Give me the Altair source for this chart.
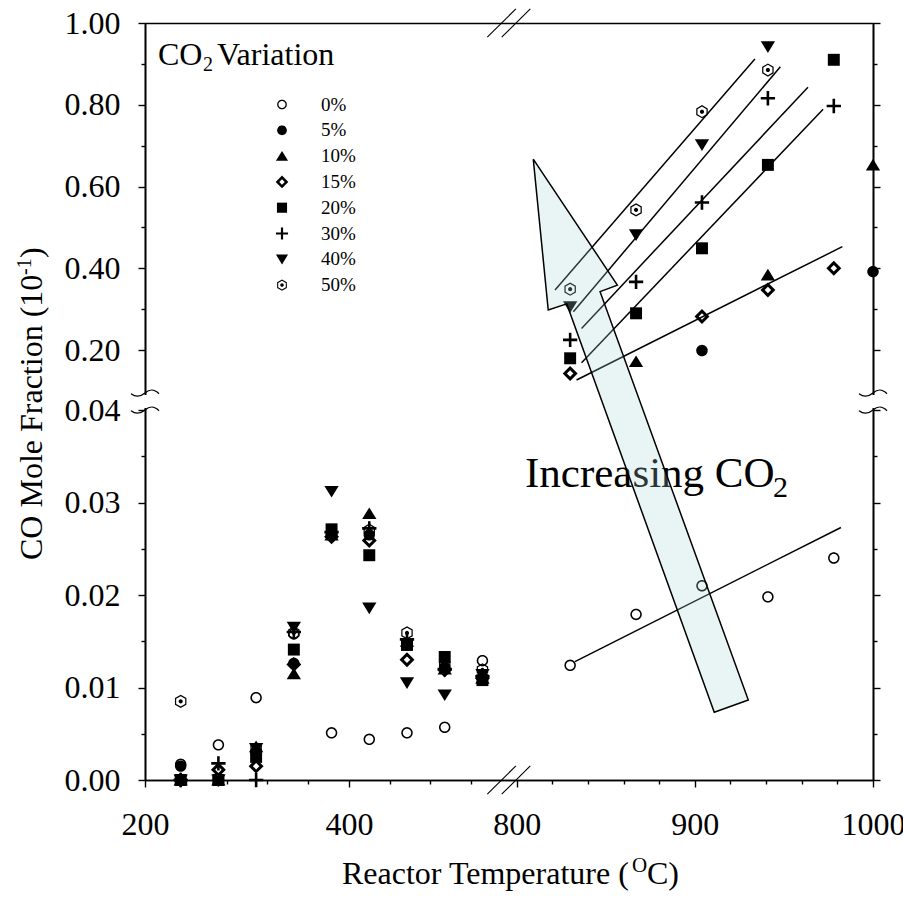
import altair as alt
import numpy as np
import pandas as pd

FONT = "Liberation Serif"

SERIES = ["0%", "5%", "10%", "15%", "20%", "30%", "40%", "50%"]

# Reactor temperatures (deg C) of the two measurement ranges
TEMPS_LOW = [235, 272, 309, 346, 383, 420, 457, 494, 531]
TEMPS_HIGH = [830, 867, 904, 941, 978, 1000]

# CO mole fraction, low-temperature range (lower y segment)
CO_LOW = {
    "0%":  [0.0017, 0.0038, 0.0089, 0.0158, 0.0051, 0.0044, 0.0051, 0.0057, 0.0129],
    "5%":  [0.0015, 0.0000, 0.0029, 0.0126, 0.0265, 0.0265, 0.0146, 0.0122, 0.0110],
    "10%": [0.0000, 0.0000, 0.0036, 0.0115, 0.0265, 0.0288, 0.0150, 0.0120, 0.0110],
    "15%": [0.0000, 0.0011, 0.0015, 0.0125, 0.0263, 0.0259, 0.0130, 0.0119, 0.0110],
    "20%": [0.0000, 0.0000, 0.0025, 0.0141, 0.0271, 0.0243, 0.0146, 0.0133, 0.0108],
    "30%": [0.0000, 0.0018, 0.0000, 0.0160, 0.0268, 0.0272, 0.0152, 0.0120, 0.0112],
    "40%": [0.0000, 0.0000, 0.0034, 0.0165, 0.0312, 0.0186, 0.0105, 0.0092, 0.0114],
    "50%": [0.0085, 0.0000, 0.0034, 0.0159, 0.0265, 0.0270, 0.0159, 0.0125, 0.0119],
}

# CO mole fraction, high-temperature range (upper y segment; 0% stays on the lower one)
CO_HIGH = {
    "0%":  [0.0124, 0.0179, 0.0210, 0.0198, 0.0240, None],
    "5%":  [None, None, 0.199, None, None, 0.392],
    "10%": [None, 0.172, None, 0.384, None, 0.653],
    "15%": [0.143, None, 0.282, 0.347, 0.400, None],
    "20%": [0.180, 0.290, 0.449, 0.653, 0.910, None],
    "30%": [0.225, 0.367, 0.561, 0.816, 0.797, None],
    "40%": [0.306, 0.482, 0.702, 0.942, None, None],
    "50%": [0.349, 0.543, 0.783, 0.885, None, None],
}

# Linear trend lines over the high-temperature range
FIT_SERIES = ["0%", "15%", "20%", "30%", "40%", "50%"]
FIT_T0 = [832.7, 833.6, 836.4, 836.4, 831.8, 821.5]
FIT_T1 = [982.0, 982.8, 972.0, 963.5, 948.0, 933.7]
FIT_V0 = [0.0128, 0.127, 0.169, 0.253, 0.294, 0.347]
FIT_V1 = [0.0273, 0.453, 0.789, 0.843, 0.893, 0.912]

# Outline of the "Increasing CO2" arrow (temperature, CO fraction)
ARROW_T = [809.3, 856.5, 846.8, 930.0, 910.9, 828.1, 817.7, 809.3]
ARROW_V = [0.667, 0.359, 0.343, 0.00865, 0.00732, 0.313, 0.298, 0.667]

# Axis ticks
X_MAJOR = [200, 400, 800, 900, 1000]
X_MINOR = [240, 280, 320, 360, 440, 480, 520, 820, 840, 860, 880, 920, 940, 960, 980]
Y_MAJOR = [0.0, 0.01, 0.02, 0.03, 0.04, 0.2, 0.4, 0.6, 0.8, 1.0]
Y_MINOR = [0.005, 0.015, 0.025, 0.035, 0.3, 0.5, 0.7, 0.9]

# ---- broken-axis layout (plot area in pixels) ----
W, H = 728, 757
XL_PX = 367.0 / 360.0          # 200-560 C segment
XR_START = 371.7               # 800-1000 C segment begins here
XR_PX = (W - XR_START) / 200.0
YL_PX = 370.0 / 0.04           # 0-0.04 segment
YU_START = 389.0               # 0.1-1.0 segment begins here
YU_PX = (H - YU_START) / 0.9
X_BREAK = 363.8
Y_BREAK_LO, Y_BREAK_HI = 370.0, 387.0


def xpos(t):
    return (t - 200) * XL_PX if t < 700 else XR_START + (t - 800) * XR_PX


def ypos(v):
    return v * YL_PX if v < 0.07 else YU_START + (v - 0.1) * YU_PX


X_EXPR = f"datum.T < 700 ? (datum.T - 200) * {XL_PX} : {XR_START} + (datum.T - 800) * {XR_PX}"
Y_EXPR = f"datum.V < 0.07 ? datum.V * {YL_PX} : {YU_START} + (datum.V - 0.1) * {YU_PX}"

XS = alt.Scale(domain=[0, W], nice=False, zero=False)
YS = alt.Scale(domain=[0, H], nice=False, zero=False)


def label_expr(pairs):
    expr = "''"
    for pos, lab in reversed(pairs):
        expr = f"abs(datum.value - {pos:.3f}) < 0.5 ? '{lab}' : ({expr})"
    return expr


AXIS_BASE = dict(grid=False, domainColor="black", domainWidth=1.6, tickColor="black",
                 tickWidth=1.4, labelFont=FONT, labelFontSize=32, labelColor="black",
                 labelFlush=False, labelOverlap=False, title=None, zindex=0)

x_major = alt.Axis(orient="bottom", values=[xpos(t) for t in X_MAJOR], tickSize=7,
                   labelPadding=22,
                   labelExpr=label_expr([(xpos(t), str(t)) for t in X_MAJOR]), **AXIS_BASE)
x_minor = alt.Axis(orient="bottom", values=[xpos(t) for t in X_MINOR], tickSize=4,
                   labels=False, **AXIS_BASE)
x_top = alt.Axis(orient="top", ticks=False, labels=False, **AXIS_BASE)
y_major = alt.Axis(orient="left", values=[ypos(v) for v in Y_MAJOR], tickSize=7,
                   labelPadding=18,
                   labelExpr=label_expr([(ypos(v), f"{v:.2f}") for v in Y_MAJOR]), **AXIS_BASE)
y_minor = alt.Axis(orient="left", values=[ypos(v) for v in Y_MINOR], tickSize=4,
                   labels=False, **AXIS_BASE)
y_right_major = alt.Axis(orient="right", values=[ypos(v) for v in Y_MAJOR], tickSize=7,
                         labels=False, **AXIS_BASE)
y_right_minor = alt.Axis(orient="right", values=[ypos(v) for v in Y_MINOR], tickSize=4,
                         labels=False, **AXIS_BASE)


# ---- marker shapes (unit box, filled black; open symbols are rings) ----
def ring_pts(r, n, start_deg=0.0):
    a = np.deg2rad(start_deg + np.arange(n) * 360.0 / n)
    return list(zip(r * np.cos(a), r * np.sin(a)))


def path(pts):
    return "M" + " L".join(f"{x:.3f} {y:.3f}" for x, y in pts) + " Z"


def ring(outer, inner):
    return path(outer) + " " + path(inner[::-1])


def diamond(r):
    return [(0, -r), (r, 0), (0, r), (-r, 0)]


a, b = 1.1, 0.2
PLUS = [(-b, -a), (b, -a), (b, -b), (a, -b), (a, b), (b, b), (b, a), (-b, a),
        (-b, b), (-a, b), (-a, -b), (-b, -b)]

SHAPES = {
    "0%": ring(ring_pts(0.88, 36), ring_pts(0.64, 36)),
    "5%": path(ring_pts(0.88, 36)),
    "10%": path([(0, -0.95), (1.1, 0.85), (-1.1, 0.85)]),
    "15%": ring(diamond(1.15), diamond(0.5)),
    "20%": path([(-0.92, -0.92), (0.92, -0.92), (0.92, 0.92), (-0.92, 0.92)]),
    "30%": path(PLUS),
    "40%": path([(0, 0.95), (-1.1, -0.85), (1.1, -0.85)]),
    "50%": ring(ring_pts(1.02, 6, -90), ring_pts(0.8, 6, -90)) + " " + path(ring_pts(0.32, 16)),
}

CURL = "M -1 0.05 C -0.6 0.35 -0.3 0.25 0 0 C 0.3 -0.25 0.6 -0.35 1 0.05"

# ---- tables ----
rows = []
for s in SERIES:
    for t, v in zip(TEMPS_LOW, CO_LOW[s]):
        rows.append({"series": s, "T": t, "V": v})
    for t, v in zip(TEMPS_HIGH, CO_HIGH[s]):
        if v is not None:
            rows.append({"series": s, "T": t, "V": v})
points_df = pd.DataFrame(rows)

fit_rows = []
for s, t0, t1, v0, v1 in zip(FIT_SERIES, FIT_T0, FIT_T1, FIT_V0, FIT_V1):
    fit_rows += [{"series": s, "T": t0, "V": v0}, {"series": s, "T": t1, "V": v1}]
fit_df = pd.DataFrame(fit_rows)

arrow_df = pd.DataFrame({"i": range(len(ARROW_T)), "T": ARROW_T, "V": ARROW_V})


def positioned(df):
    return alt.Chart(df).transform_calculate(xp=X_EXPR, yp=Y_EXPR)


def px(axis=None):
    return alt.X("xp:Q", scale=XS, axis=axis)


def py(axis=None):
    return alt.Y("yp:Q", scale=YS, axis=axis)


legend = alt.Legend(title=None, orient="none", legendX=127.5, legendY=72, padding=0,
                    symbolSize=121, symbolFillColor="black", symbolStrokeWidth=0,
                    labelFont=FONT, labelFontSize=19, labelColor="black",
                    labelOffset=29.5, rowPadding=5.8)

points = positioned(points_df).mark_point(
    filled=True, size=169, opacity=1, color="black", strokeWidth=0
).encode(
    x=px(x_major), y=py(y_major),
    shape=alt.Shape("series:N", scale=alt.Scale(domain=SERIES, range=[SHAPES[s] for s in SERIES]),
                    legend=legend),
)

fits = positioned(fit_df).mark_line(color="black", strokeWidth=1.5).encode(
    x=px(), y=py(), detail="series:N")

arrow = positioned(arrow_df).mark_line(
    fill="#a6d8d8", fillOpacity=0.25, stroke="black", strokeWidth=1.5, strokeJoin="miter"
).encode(x=px(), y=py(), order="i:Q")

# axis carriers for minor ticks, mirrored right ticks and the top frame line
carrier1 = positioned(points_df).mark_point(opacity=0).encode(x=px(x_minor), y=py(y_minor))
carrier2 = positioned(points_df).mark_point(opacity=0).encode(x=px(x_top), y=py(y_right_major))
carrier3 = positioned(points_df).mark_point(opacity=0).encode(x=px(), y=py(y_right_minor))

# axis break marks
gap_df = pd.DataFrame({"x": [-4, W - 4], "x2": [4, W + 4],
                       "y": [Y_BREAK_LO + 2, Y_BREAK_LO + 2], "y2": [Y_BREAK_HI - 2, Y_BREAK_HI - 2]})
gap = alt.Chart(gap_df).mark_rect(color="white").encode(
    x=alt.X("x:Q", scale=XS, axis=None), x2="x2:Q",
    y=alt.Y("y:Q", scale=YS, axis=None), y2="y2:Q")

curl_df = pd.DataFrame({"x": [0, 0, W, W], "y": [Y_BREAK_LO, Y_BREAK_HI, Y_BREAK_LO, Y_BREAK_HI]})
curls = alt.Chart(curl_df).mark_point(
    shape=CURL, filled=False, size=784, color="black", strokeWidth=1.3, opacity=1
).encode(x=alt.X("x:Q", scale=XS, axis=None), y=alt.Y("y:Q", scale=YS, axis=None))

sl = []
for yc in (0, H):
    for xc in (X_BREAK - 7.2, X_BREAK + 7.2):
        sl.append({"x": xc - 14.3, "x2": xc + 14.3, "y": yc - 14.2, "y2": yc + 14.2})
slashes = alt.Chart(pd.DataFrame(sl)).mark_rule(color="black", strokeWidth=1.1).encode(
    x=alt.X("x:Q", scale=XS, axis=None), x2="x2:Q",
    y=alt.Y("y:Q", scale=YS, axis=None), y2="y2:Q")


def text(s, x, y, size, angle=0, align="left"):
    return alt.Chart(pd.DataFrame({"t": [s]})).mark_text(
        x=x, y=y, font=FONT, fontSize=size, angle=angle, align=align,
        baseline="alphabetic", color="black"
    ).encode(text="t:N")


texts_under = [
    text("Increasing CO", 380, 464, 43),
    text("2", 628, 474, 30),
]
texts_over = [
    # legend title
    text("CO", 13, 42, 32),
    text("2", 58, 48, 20),
    text("Variation", 72, 42, 32),
    # x-axis title
    text("Reactor Temperature (", 197, 861, 32),
    text("O", 487, 849, 21),
    text("C)", 502, 861, 32),
    # y-axis title
    text("CO Mole Fraction (10", -103, 537, 32, angle=270),
    text("-1", -114, 252, 20, angle=270),
    text(")", -103, 235, 32, angle=270),
]

chart = alt.layer(
    carrier1, carrier2, carrier3,
    *texts_under, fits, points, arrow, gap, curls, slashes, *texts_over,
).resolve_axis(x="independent", y="independent").properties(
    width=W, height=H,
    autosize=alt.AutoSizeParams(type="none"),
    padding={"left": 145, "top": 23, "right": 30, "bottom": 127},
).configure_view(stroke=None).configure(font=FONT)

chart.save("out.html", embed_options={"renderer": "svg", "actions": False})
